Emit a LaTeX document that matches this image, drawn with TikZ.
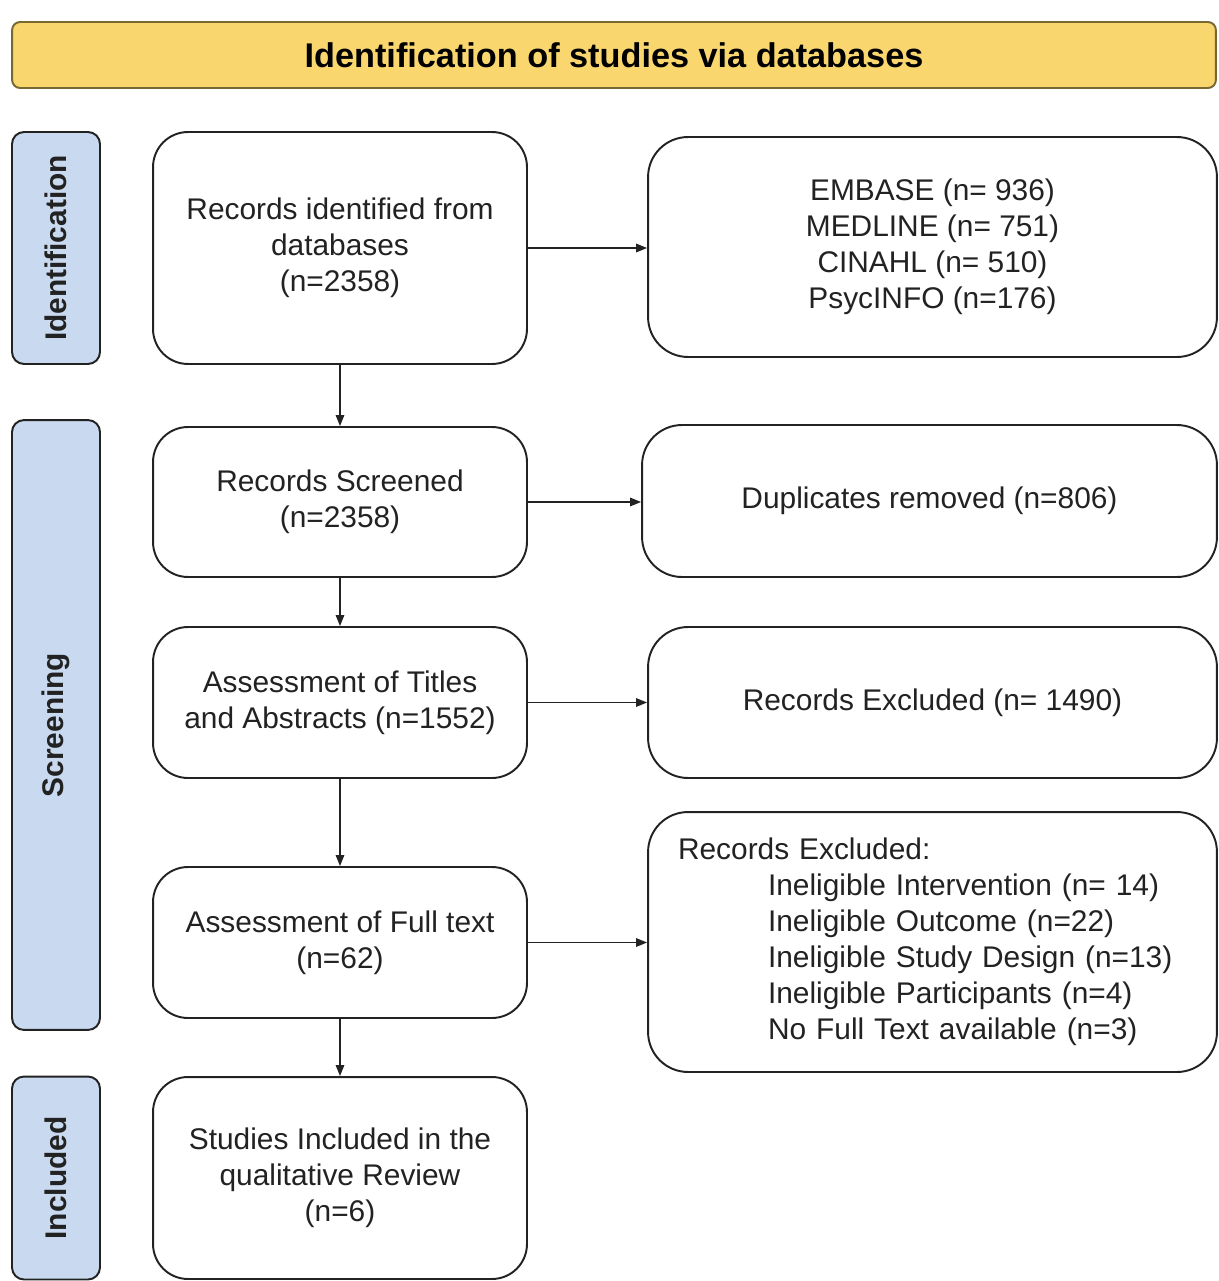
\documentclass[tikz,border=0pt]{standalone}
\usepackage{fontspec}
\setmainfont{Liberation Sans}
\usetikzlibrary{arrows.meta}
\definecolor{banner}{RGB}{249,214,110}
\definecolor{bannerline}{RGB}{120,104,50}
\definecolor{sideblue}{RGB}{201,218,240}
\definecolor{ink}{RGB}{34,34,34}
\tikzset{
  bannerbox/.style={draw=bannerline, fill=banner, line width=1.1pt, rounded corners=0.16cm,
    minimum width=24.08cm, minimum height=1.32cm, inner sep=0pt,
    font=\fontsize{19.5}{23}\selectfont\bfseries, text=black},
  sidebox/.style={draw=ink, fill=sideblue, line width=1.1pt, rounded corners=0.24cm,
    rotate=90, minimum height=1.76cm, inner sep=0pt,
    font=\fontsize{17}{20.5}\selectfont\bfseries, text=ink},
  flowbox/.style={draw=ink, line width=1.1pt, rounded corners=0.7cm, fill=white,
    minimum width=7.48cm, inner sep=0pt, align=center,
    font=\fontsize{17}{20.5}\selectfont, text=ink},
  sidenote/.style={draw=ink, line width=1.1pt, rounded corners=0.8cm, fill=white,
    minimum width=11.38cm, inner sep=0pt, align=center,
    font=\fontsize{17}{20.5}\selectfont, text=ink},
  arr/.style={draw=ink, line width=0.8pt, -{Triangle[length=0.22cm,width=0.17cm]}}
}
\begin{document}
\begin{tikzpicture}[x=0.02cm, y=-0.02cm]
\useasboundingbox[fill=white] (0,0) rectangle (1219,1281);

% banner
\node[bannerbox] (banner) at (614,55) {Identification of studies via databases};

% side labels
\node[sidebox, minimum width=4.64cm] (sideid) at (56,248) {Identification};
\node[sidebox, minimum width=12.2cm] (sidescr) at (56,725) {Screening};
\node[sidebox, minimum width=4.06cm] (sideinc) at (56,1178) {Included};

% main column
\node[flowbox, minimum height=4.64cm] (b1) at (340,248) {Records identified from\\databases\\(n=2358)};
\node[flowbox, minimum height=3.0cm] (b2) at (340,502) {Records Screened\\(n=2358)};
\node[flowbox, minimum height=3.02cm] (b3) at (340,702.5) {Assessment of Titles\\and Abstracts (n=1552)};
\node[flowbox, minimum height=3.02cm] (b4) at (340,942.5) {Assessment of Full text\\(n=62)};
\node[flowbox, minimum height=4.04cm] (b5) at (340,1178) {Studies Included in the\\qualitative Review\\(n=6)};

% right column
\node[sidenote, minimum height=4.4cm] (r1) at (932.5,247) {EMBASE (n= 936)\\MEDLINE (n= 751)\\CINAHL (n= 510)\\PsycINFO (n=176)};
\node[sidenote, minimum width=11.5cm, minimum height=3.04cm] (r2) at (929.5,501) {Duplicates removed (n=806)};
\node[sidenote, minimum height=3.02cm] (r3) at (932.5,702.5) {Records Excluded (n= 1490)};
\node[sidenote, minimum height=5.2cm, align=left, text width=10.18cm, inner xsep=0.6cm] (r4) at (932.5,942) {Records Excluded:\\
\hspace*{1.8cm}Ineligible Intervention (n= 14)\\
\hspace*{1.8cm}Ineligible Outcome (n=22)\\
\hspace*{1.8cm}Ineligible Study Design (n=13)\\
\hspace*{1.8cm}Ineligible Participants (n=4)\\
\hspace*{1.8cm}No Full Text available (n=3)};

% connectors
\draw[arr] (b1.east) -- (b1.east -| r1.west);
\draw[arr] (b2.east) -- (b2.east -| r2.west);
\draw[arr] (b3.east) -- (b3.east -| r3.west);
\draw[arr] (b4.east) -- (b4.east -| r4.west);
\draw[arr] (b1.south) -- (b2.north);
\draw[arr] (b2.south) -- (b3.north);
\draw[arr] (b3.south) -- (b4.north);
\draw[arr] (b4.south) -- (b5.north);
\end{tikzpicture}
\end{document}
